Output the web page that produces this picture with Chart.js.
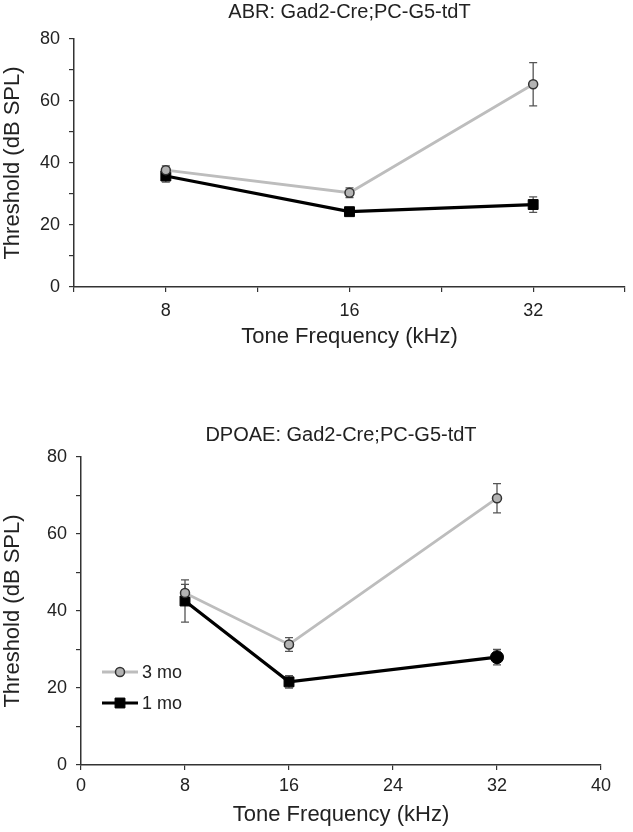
<!DOCTYPE html>
<html>
<head>
<meta charset="utf-8">
<script src="https://cdn.jsdelivr.net/npm/chart.js@4.4.1/dist/chart.umd.min.js"></script>
<style>
  html, body { margin: 0; padding: 0; background: #fff; }
  body { width: 633px; height: 832px; position: relative; overflow: hidden; }
  .box { position: absolute; left: 0; width: 633px; }
  #b1 { top: 0; height: 360px; }
  #b2 { top: 415px; height: 417px; }
</style>
</head>
<body>
<div class="box" id="b1"><canvas id="c1" width="633" height="360"></canvas></div>
<div class="box" id="b2"><canvas id="c2" width="633" height="417"></canvas></div>
<script>
// ---------- data ----------
const seriesNames = ['3 mo', '1 mo'];

// ABR panel (categorical frequency axis)
const abrTickLabels = ['', '8', '', '16', '', '32', ''];
const abrFreqs = ['8', '16', '32'];
const abr3mo = [37.7, 30.4, 65.4];
const abr3moErr = [1.4, 1.6, 7.0];
const abr1mo = [35.8, 24.3, 26.6];
const abr1moErr = [2.0, 0.8, 2.5];

// DPOAE panel (linear frequency axis)
const dpFreqs = [8, 16, 32];
const dp3mo = [44.7, 31.3, 69.3];
const dp3moErr = [2.2, 1.8, 3.8];
const dp1mo = [42.6, 21.6, 28.0];
const dp1moErr = [5.5, 1.6, 2.0];
const dpXTicks = [0, 8, 16, 24, 32, 40];
const yTicks = [0, 20, 40, 60, 80];

// ---------- styles ----------
const FONT = "'Liberation Sans', Arial, sans-serif";
const TXT = '#222';
const AX = '#333';
const GRAY_LINE = '#bdbdbd';
const GRAY_FILL = '#b3b3b3';

const errorBars = {
  id: 'errorBars',
  beforeDatasetsDraw(chart) {
    const ctx = chart.ctx;
    const ys = chart.scales.y;
    ctx.save();
    ctx.strokeStyle = '#555';
    ctx.lineWidth = 1.3;
    chart.data.datasets.forEach((ds, i) => {
      const meta = chart.getDatasetMeta(i);
      meta.data.forEach((pt, j) => {
        const v = ds.data[j].y, e = ds.err[j];
        const x = pt.x;
        const y1 = ys.getPixelForValue(v + e), y2 = ys.getPixelForValue(v - e);
        ctx.beginPath();
        ctx.moveTo(x, y1); ctx.lineTo(x, y2);
        ctx.moveTo(x - 4, y1); ctx.lineTo(x + 4, y1);
        ctx.moveTo(x - 4, y2); ctx.lineTo(x + 4, y2);
        ctx.stroke();
      });
    });
    ctx.restore();
  }
};

const innerLegend = {
  id: 'innerLegend',
  afterDraw(chart, args, opts) {
    if (!opts.show) return;
    const ctx = chart.ctx;
    const a = chart.chartArea;
    ctx.save();
    chart.data.datasets.forEach((ds, i) => {
      const y = a.top + opts.top + i * opts.gap;
      const x0 = a.left + opts.left;
      ctx.strokeStyle = ds.borderColor;
      ctx.lineWidth = ds.borderWidth;
      ctx.beginPath(); ctx.moveTo(x0, y); ctx.lineTo(x0 + 36, y); ctx.stroke();
      const style = Array.isArray(ds.pointStyle) ? ds.pointStyle[0] : ds.pointStyle;
      ctx.fillStyle = ds.pointBackgroundColor;
      ctx.strokeStyle = ds.pointBorderColor;
      ctx.lineWidth = ds.pointBorderWidth;
      Chart.helpers.drawPoint(ctx, { pointStyle: style, radius: style === 'rect' ? 7 : 4.5, borderWidth: ds.pointBorderWidth }, x0 + 18, y);
      ctx.fillStyle = TXT;
      ctx.font = '18px ' + FONT;
      ctx.textBaseline = 'middle';
      ctx.fillText(ds.label, x0 + 40, y + 1);
    });
    ctx.restore();
  }
};

function ds3(data, err, xs) {
  return {
    label: seriesNames[0],
    data: xs.map((x, i) => ({ x, y: data[i] })),
    err,
    borderColor: GRAY_LINE, borderWidth: 2.8,
    pointStyle: 'circle', pointRadius: 4.5, pointBorderWidth: 1.5,
    pointBackgroundColor: GRAY_FILL, pointBorderColor: '#333',
    tension: 0, order: 1
  };
}
function ds1(data, err, xs, styles, radii) {
  return {
    label: seriesNames[1],
    data: xs.map((x, i) => ({ x, y: data[i] })),
    err,
    borderColor: '#000', borderWidth: 3.2,
    pointStyle: styles, pointRadius: radii, pointBorderWidth: 1,
    pointBackgroundColor: '#000', pointBorderColor: '#000',
    tension: 0, order: 2
  };
}

function yScale(width) {
  return {
    type: 'linear', min: 0, max: 80,
    afterFit(s) { s.width = width; },
    afterBuildTicks(s) { s.ticks = []; for (let v = 0; v <= 80; v += 10) s.ticks.push({ value: v }); },
    ticks: {
      color: TXT, font: { family: FONT, size: 18 }, padding: 9,
      callback: v => (yTicks.includes(v) ? String(v) : '')
    },
    grid: { drawOnChartArea: false, tickLength: 5, color: AX, lineWidth: 1.2 },
    border: { color: AX, width: 1.5 },
    title: { display: true, text: 'Threshold (dB SPL)', color: TXT, font: { family: FONT, size: 22 }, padding: { top: 0, bottom: 4 } }
  };
}

function xTitle(pb) {
  return { display: true, text: 'Tone Frequency (kHz)', color: TXT, font: { family: FONT, size: 22 }, padding: { top: 4, bottom: pb } };
}

Chart.defaults.animation = false;
Chart.defaults.responsive = false;

// ---------- ABR ----------
const abrXs = abrFreqs.map(f => abrTickLabels.indexOf(f));
new Chart(document.getElementById('c1'), {
  type: 'line',
  data: { datasets: [ds3(abr3mo, abr3moErr, abrXs), ds1(abr1mo, abr1moErr, abrXs, 'rect', 7)] },
  options: {
    layout: { padding: { left: 0, right: -2, top: 0, bottom: 0 } },
    plugins: {
      legend: { display: false }, tooltip: { enabled: false },
      title: { display: true, fullSize: false, text: 'ABR: Gad2-Cre;PC-G5-tdT', color: TXT, font: { family: FONT, size: 20, weight: 'normal' }, padding: { top: 0, bottom: 15 } },
      innerLegend: { show: false }
    },
    scales: {
      x: {
        type: 'linear', min: 0, max: abrTickLabels.length - 1,
        afterFit(s) { s.height = 73; },
        ticks: { stepSize: 1, color: TXT, font: { family: FONT, size: 18 }, padding: 8, autoSkip: false, maxRotation: 0,
          callback: v => abrTickLabels[v] },
        grid: { drawOnChartArea: false, tickLength: 5, color: AX, lineWidth: 1.2 },
        border: { color: AX, width: 1.5 },
        title: xTitle(10)
      },
      y: yScale(74)
    }
  },
  plugins: [errorBars, innerLegend]
});

// ---------- DPOAE ----------
new Chart(document.getElementById('c2'), {
  type: 'line',
  data: { datasets: [ds3(dp3mo, dp3moErr, dpFreqs), ds1(dp1mo, dp1moErr, dpFreqs, ['rect', 'rect', 'circle'], [7, 7, 6.5])] },
  options: {
    layout: { padding: { left: 0, right: 32, top: 0, bottom: 0 } },
    plugins: {
      legend: { display: false }, tooltip: { enabled: false },
      title: { display: true, fullSize: false, text: 'DPOAE: Gad2-Cre;PC-G5-tdT', color: TXT, font: { family: FONT, size: 20, weight: 'normal' }, padding: { top: 8, bottom: 10 } },
      innerLegend: { show: true, left: 21, top: 215, gap: 31 }
    },
    scales: {
      x: {
        type: 'linear', min: 0, max: 40,
        afterFit(s) { s.height = 67; },
        afterBuildTicks(s) { s.ticks = dpXTicks.map(v => ({ value: v })); },
        ticks: { color: TXT, font: { family: FONT, size: 18 }, padding: 5, maxRotation: 0 },
        grid: { drawOnChartArea: false, tickLength: 5, color: AX, lineWidth: 1.2 },
        border: { color: AX, width: 1.5 },
        title: xTitle(4)
      },
      y: yScale(81)
    }
  },
  plugins: [errorBars, innerLegend]
});
</script>
</body>
</html>
